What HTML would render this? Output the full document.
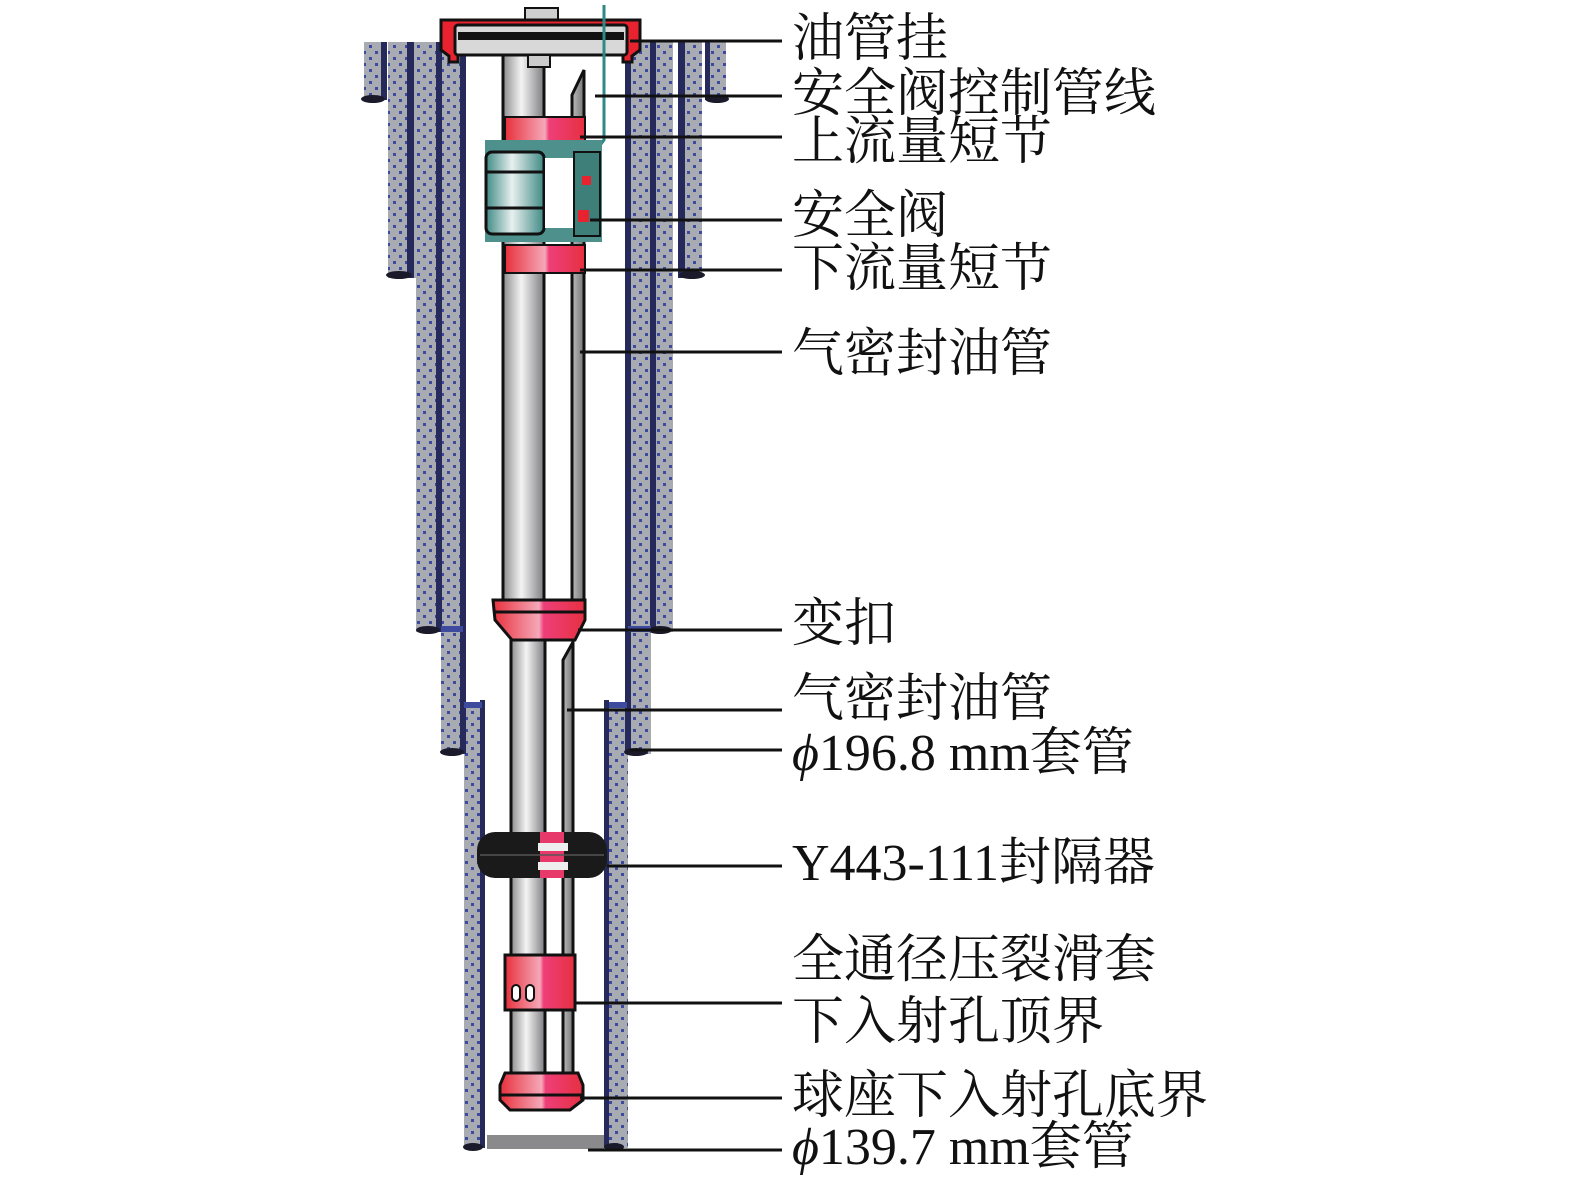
<!DOCTYPE html>
<html><head><meta charset="utf-8"><style>
html,body{margin:0;padding:0;background:#fff;}
svg{display:block;}
text{font-family:"Liberation Serif","Noto Serif CJK SC",serif;font-size:52px;fill:#111;}
</style></head><body>
<svg width="1575" height="1191" viewBox="0 0 1575 1191" xmlns="http://www.w3.org/2000/svg">
<defs>
<pattern id="dots" width="12" height="12" patternUnits="userSpaceOnUse">
<rect width="12" height="12" fill="#a9abb3"/>
<rect x="3" y="3" width="3" height="3" fill="#3d4a9e"/>
<rect x="9" y="9" width="3" height="3" fill="#3d4a9e"/>
</pattern>
<linearGradient id="tube" x1="0" x2="1" y1="0" y2="0">
<stop offset="0" stop-color="#8d8d8f"/><stop offset="0.45" stop-color="#f4f4f4"/><stop offset="1" stop-color="#7d7d80"/>
</linearGradient>
<linearGradient id="thin" x1="0" x2="1"><stop offset="0" stop-color="#bbb"/><stop offset="1" stop-color="#777"/></linearGradient>
<linearGradient id="red" x1="0" x2="1">
<stop offset="0" stop-color="#e8303c"/><stop offset="0.5" stop-color="#f5a8b8"/><stop offset="0.55" stop-color="#ee3f7a"/><stop offset="1" stop-color="#e63040"/>
</linearGradient>
<linearGradient id="teal" x1="0" x2="1">
<stop offset="0" stop-color="#3f8a85"/><stop offset="0.45" stop-color="#e8f0ef"/><stop offset="1" stop-color="#3f8a85"/>
</linearGradient>
</defs>

<g fill="url(#dots)">
<rect x="364" y="42" width="20" height="58"/>
<rect x="388" y="42" width="30" height="236"/>
<rect x="416" y="42" width="25" height="590"/>
<rect x="441" y="42" width="22" height="712"/>
<rect x="464" y="702" width="18" height="446"/>
<rect x="706" y="42" width="20" height="58"/>
<rect x="680" y="42" width="22" height="236"/>
<rect x="651" y="42" width="22" height="590"/>
<rect x="628" y="42" width="23" height="712"/>
<rect x="609" y="702" width="19" height="446"/>
</g>
<g fill="#262a5a">
<rect x="381" y="42" width="6" height="58"/>
<rect x="407" y="42" width="7" height="236"/>
<rect x="436" y="42" width="6" height="590"/>
<rect x="460" y="42" width="6" height="712"/>
<rect x="480" y="700" width="5" height="448"/>
<rect x="705" y="42" width="5" height="58"/>
<rect x="678" y="42" width="7" height="236"/>
<rect x="650" y="42" width="6" height="590"/>
<rect x="625" y="42" width="6" height="712"/>
<rect x="604" y="700" width="5" height="448"/>
</g>
<g fill="#1a1a2a">
<ellipse cx="373" cy="99" rx="12" ry="4"/>
<ellipse cx="399" cy="275" rx="13" ry="4"/>
<ellipse cx="428" cy="630" rx="12" ry="4"/>
<ellipse cx="452" cy="752" rx="12" ry="4"/>
<ellipse cx="473" cy="1147" rx="10" ry="4"/>
<ellipse cx="717" cy="99" rx="12" ry="4"/>
<ellipse cx="692" cy="275" rx="13" ry="4"/>
<ellipse cx="660" cy="630" rx="12" ry="4"/>
<ellipse cx="636" cy="752" rx="12" ry="4"/>
<ellipse cx="614" cy="1147" rx="10" ry="4"/>
</g>
<rect x="441" y="626" width="22" height="6" fill="#3d4a9e"/>
<rect x="628" y="626" width="23" height="6" fill="#3d4a9e"/>
<rect x="464" y="702" width="18" height="6" fill="#3d4a9e"/>
<rect x="609" y="702" width="18" height="6" fill="#3d4a9e"/>
<rect x="487" y="1135" width="117" height="14" fill="#8a8a8c"/>

<rect x="503" y="55" width="41" height="548" fill="url(#tube)" stroke="#111" stroke-width="3"/>
<path d="M572 603 V95 L584 70 V603 Z" fill="url(#thin)" stroke="#111" stroke-width="3"/>
<rect x="511" y="640" width="34" height="440" fill="url(#tube)" stroke="#111" stroke-width="3"/>
<path d="M563 1080 V660 L573 642 V1080 Z" fill="url(#thin)" stroke="#111" stroke-width="3"/>

<rect x="525" y="8" width="33" height="14" fill="#cfcfcf" stroke="#111" stroke-width="2"/>
<path d="M441 20 H640 V50 L632 56 V62 H623 V50 H458 V62 H449 V56 L441 50 Z" fill="#e8232f" stroke="#111" stroke-width="3"/>
<rect x="455" y="25" width="172" height="30" rx="3" fill="#d8d8d8" stroke="#111" stroke-width="3"/>
<rect x="458" y="32" width="166" height="8" fill="#111"/>
<rect x="528" y="55" width="22" height="12" fill="#ccc" stroke="#111" stroke-width="2"/>
<path d="M604 5 V140 L598 148" fill="none" stroke="#2f8a87" stroke-width="3"/>

<rect x="505" y="117" width="80" height="30" fill="url(#red)" stroke="#111" stroke-width="2"/>
<rect x="485" y="140" width="117" height="102" fill="#4e918c"/>
<rect x="486" y="152" width="58" height="82" rx="6" fill="url(#teal)" stroke="#111" stroke-width="3"/>
<line x1="486" y1="172" x2="544" y2="172" stroke="#111" stroke-width="3"/>
<line x1="486" y1="208" x2="544" y2="208" stroke="#111" stroke-width="3"/>
<rect x="545" y="158" width="30" height="70" fill="#fff"/>
<rect x="574" y="152" width="26" height="84" fill="#3e7f7a" stroke="#111" stroke-width="2"/>
<rect x="582" y="176" width="9" height="9" fill="#e8232f"/>
<rect x="578" y="210" width="11" height="12" fill="#e8232f"/>
<rect x="505" y="245" width="80" height="28" fill="url(#red)" stroke="#111" stroke-width="2"/>

<path d="M493 600 H585 V620 L575 640 H512 L495 620 Z" fill="url(#red)" stroke="#111" stroke-width="3"/>
<line x1="495" y1="612" x2="585" y2="612" stroke="#111" stroke-width="3"/>

<rect x="477" y="832" width="130" height="46" rx="18" fill="#1a1a1a"/>
<rect x="540" y="832" width="24" height="46" fill="#e83a6a"/>
<rect x="538" y="843" width="30" height="8" fill="#eee"/>
<rect x="538" y="862" width="30" height="8" fill="#eee"/>
<line x1="480" y1="855" x2="604" y2="855" stroke="#555" stroke-width="1.5"/>

<rect x="505" y="955" width="70" height="55" fill="url(#red)" stroke="#111" stroke-width="3"/>
<rect x="512" y="985" width="8" height="16" rx="4" fill="#fff" stroke="#111" stroke-width="2"/>
<rect x="526" y="985" width="8" height="16" rx="4" fill="#fff" stroke="#111" stroke-width="2"/>
<path d="M505 1073 H578 L583 1085 V1100 L570 1110 H510 L500 1100 V1085 Z" fill="url(#red)" stroke="#111" stroke-width="3"/>
<line x1="500" y1="1095" x2="583" y2="1095" stroke="#111" stroke-width="3"/>

<g stroke="#111" stroke-width="3">
<line x1="630" y1="41" x2="782" y2="41"/>
<line x1="595" y1="96" x2="782" y2="96"/>
<line x1="580" y1="137" x2="782" y2="137"/>
<line x1="590" y1="220" x2="782" y2="220"/>
<line x1="580" y1="270" x2="782" y2="270"/>
<line x1="580" y1="352" x2="782" y2="352"/>
<line x1="578" y1="630" x2="782" y2="630"/>
<line x1="567" y1="710" x2="782" y2="710"/>
<line x1="630" y1="750" x2="782" y2="750"/>
<line x1="607" y1="866" x2="782" y2="866"/>
<line x1="575" y1="1003" x2="782" y2="1003"/>
<line x1="580" y1="1098" x2="782" y2="1098"/>
<line x1="588" y1="1150" x2="782" y2="1150"/>
</g>

<text x="792" y="56">油管挂</text>
<text x="792" y="111">安全阀控制管线</text>
<text x="792" y="159">上流量短节</text>
<text x="792" y="233">安全阀</text>
<text x="792" y="286">下流量短节</text>
<text x="792" y="371">气密封油管</text>
<text x="792" y="641">变扣</text>
<text x="792" y="716">气密封油管</text>
<text x="792" y="770"><tspan font-style="italic">ϕ</tspan>196.8 mm套管</text>
<text x="792" y="880">Y443-111封隔器</text>
<text x="792" y="977">全通径压裂滑套</text>
<text x="792" y="1039">下入射孔顶界</text>
<text x="792" y="1113">球座下入射孔底界</text>
<text x="792" y="1164"><tspan font-style="italic">ϕ</tspan>139.7 mm套管</text>
</svg>
</body></html>
